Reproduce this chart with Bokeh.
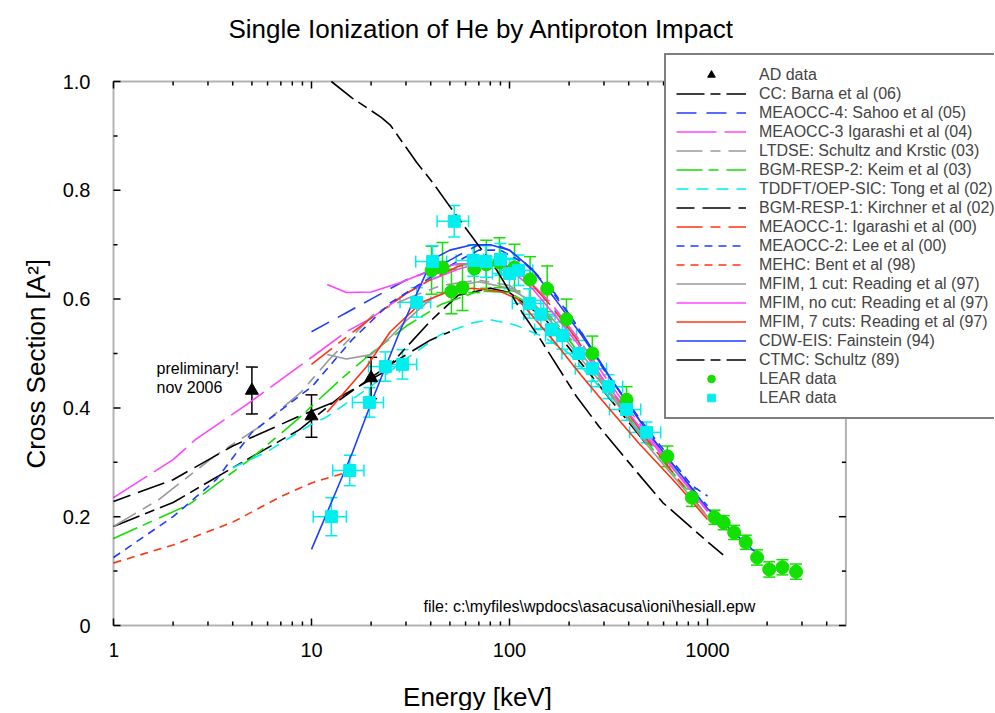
import math
from bokeh.plotting import figure
from bokeh.models import (Range1d, FixedTicker, Legend, LegendItem, Title,
                          Whisker, TeeHead, ColumnDataSource, Label, BoxAnnotation)
from bokeh.core.properties import value
from bokeh.embed import file_html
from bokeh.resources import INLINE

FONT = "Liberation Sans"

# ---------------- axes ----------------
box_E = [1, 5000]          # energy limits of the plotted box
box_s = [0, 1.0]           # cross-section limits of the plotted box
x_major = [1, 10, 100, 1000]
x_labels = ["1", "10", "100", "1000"]
x_minor = [2, 3, 4, 5, 6, 7, 8, 9, 20, 30, 40, 50, 60, 70, 80, 90,
           200, 300, 400, 500, 600, 700, 800, 900, 2000, 3000, 4000]
y_major = [0, 0.2, 0.4, 0.6, 0.8, 1.0]
y_labels = ["0", "0.2", "0.4", "0.6", "0.8", "1.0"]
y_minor = [0.1, 0.3, 0.5, 0.7, 0.9]

# ---------------- experimental data ----------------
ad_E = [5, 10, 20]
ad_s = [0.432, 0.385, 0.455]
ad_err = [0.043, 0.039, 0.038]

lear1_E = [40.4, 45.9, 50.9, 57.9, 66.4, 76.4, 89, 106, 127, 155, 194, 262, 390, 627,
           834, 1084, 1208, 1363, 1560, 1780, 2050, 2390, 2800]
lear1_s = [0.653, 0.658, 0.614, 0.621, 0.656, 0.664, 0.667, 0.658, 0.636, 0.619, 0.563,
           0.500, 0.415, 0.311, 0.235, 0.199, 0.189, 0.171, 0.153, 0.125, 0.103, 0.107, 0.099]
lear1_err = [0.044, 0.046, 0.041, 0.042, 0.044, 0.044, 0.046, 0.043, 0.042, 0.042, 0.037,
             0.032, 0.024, 0.019, 0.016, 0.013, 0.013, 0.013, 0.013, 0.014, 0.014, 0.014, 0.014]

lear2_E = [12.6, 15.6, 19.6, 23.6, 28.8, 34, 40.9, 52.6, 65.6, 76, 90, 100, 111, 126, 144,
           163, 185, 224, 262, 316, 390, 492]
lear2_s = [0.200, 0.285, 0.410, 0.476, 0.480, 0.594, 0.669, 0.743, 0.671, 0.669, 0.673,
           0.647, 0.653, 0.592, 0.572, 0.544, 0.533, 0.500, 0.472, 0.439, 0.397, 0.355]
lear2_err = [0.035, 0.028, 0.027, 0.027, 0.027, 0.027, 0.029, 0.029, 0.029, 0.029, 0.029,
             0.028, 0.028, 0.027, 0.026, 0.025, 0.025, 0.024, 0.023, 0.022, 0.020, 0.019]
lear2_xerr = [2.4, 2.8, 3.5, 4.2, 5.2, 6, 7.3, 9.5, 11.8, 13.7, 16, 18, 20, 22.7, 26,
              29, 33, 40, 47, 57, 70, 88]

# ---------------- theory curves ----------------
cc_E = [1, 2, 4, 8.7, 13.9, 23, 40, 55, 80, 100, 150, 200, 300, 500]
cc_s = [0.182, 0.226, 0.29, 0.36, 0.42, 0.465, 0.56, 0.607, 0.62, 0.612, 0.565, 0.51, 0.43, 0.33]

meaocc4_E = [10, 15, 20, 30, 41, 55, 70, 85, 100, 130, 170, 230, 330, 500, 800, 1000]
meaocc4_s = [0.54, 0.575, 0.60, 0.635, 0.654, 0.68, 0.70, 0.70, 0.69, 0.655, 0.61, 0.54,
             0.45, 0.355, 0.26, 0.22]

meaocc3_E = [1, 2, 2.6, 4.7, 10.1, 15, 20, 30, 40, 55, 70, 90, 120, 160, 220, 300, 500, 1000]
meaocc3_s = [0.235, 0.305, 0.342, 0.406, 0.494, 0.54, 0.565, 0.61, 0.635, 0.655, 0.665,
             0.665, 0.64, 0.595, 0.53, 0.46, 0.35, 0.21]

ltdse_E = [1, 1.7, 3.2, 5.5, 8.8, 12.3, 21, 30, 45, 70, 100, 150, 200, 300, 500]
ltdse_s = [0.182, 0.232, 0.31, 0.366, 0.428, 0.489, 0.575, 0.60, 0.625, 0.635, 0.625,
           0.58, 0.53, 0.445, 0.335]

bgm2_E = [1, 2.4, 5, 8.5, 14, 20, 30, 45, 70, 100, 150, 200, 300, 500, 900]
bgm2_s = [0.16, 0.222, 0.308, 0.379, 0.452, 0.50, 0.55, 0.59, 0.615, 0.612, 0.575, 0.525,
          0.44, 0.335, 0.225]

tddft_E = [4, 6, 10, 12, 20, 30, 45, 66, 80, 106, 150, 200, 300, 500, 800]
tddft_s = [0.29, 0.32, 0.37, 0.384, 0.44, 0.49, 0.535, 0.557, 0.562, 0.553, 0.53, 0.50,
           0.43, 0.34, 0.26]

bgm1_E = [1, 2, 4, 8.7, 13.9, 24, 40, 50]
bgm1_s = [0.228, 0.268, 0.33, 0.385, 0.415, 0.476, 0.525, 0.54]

meaocc1_E = [10, 15, 20, 30, 40, 55, 70, 90, 120, 160, 220, 300, 500, 1000]
meaocc1_s = [0.48, 0.53, 0.565, 0.61, 0.636, 0.66, 0.67, 0.668, 0.64, 0.59, 0.525, 0.45,
             0.34, 0.2]

meaocc2_E = [1, 2, 3.3, 5, 10.1, 16, 25, 40, 55, 70, 90, 120, 160, 220, 300, 500, 830, 1000]
meaocc2_s = [0.125, 0.2, 0.268, 0.355, 0.44, 0.525, 0.593, 0.64, 0.67, 0.69, 0.69, 0.665,
             0.62, 0.55, 0.47, 0.36, 0.258, 0.238]

mehc_E = [1, 2, 4, 7, 10, 12.8, 15.5]
mehc_s = [0.115, 0.148, 0.19, 0.237, 0.262, 0.274, 0.283]

mfim1_E = [12, 15, 20, 25, 30, 40, 55, 70, 100, 130, 170, 230, 300, 500, 1000]
mfim1_s = [0.498, 0.49, 0.498, 0.53, 0.56, 0.60, 0.625, 0.632, 0.62, 0.595, 0.55, 0.49,
           0.44, 0.33, 0.2]

mfim0_E = [12, 15, 20, 28, 38, 55, 75, 100, 130, 170, 230, 300, 500, 1000]
mfim0_s = [0.627, 0.612, 0.613, 0.63, 0.65, 0.665, 0.665, 0.655, 0.62, 0.57, 0.51, 0.45,
           0.345, 0.21]

mfim7_E = [12, 19, 25, 36, 50, 65, 90, 110, 130, 170, 230, 300, 450, 700, 1000]
mfim7_s = [0.392, 0.476, 0.54, 0.594, 0.615, 0.62, 0.614, 0.60, 0.57, 0.52, 0.46, 0.41,
           0.335, 0.26, 0.195]

cdw_E = [10, 12.8, 16.1, 20.3, 27.8, 40.7, 50, 65, 80, 100, 130, 170, 230, 330, 500, 1000, 1730]
cdw_s = [0.14, 0.232, 0.318, 0.415, 0.539, 0.673, 0.69, 0.70, 0.70, 0.69, 0.655, 0.60,
         0.535, 0.45, 0.355, 0.215, 0.136]

ctmc_E = [12.6, 16, 22.5, 25, 34, 41, 50, 68, 86, 116, 141, 218, 283, 442, 594, 1000, 1200]
ctmc_s = [1.0, 0.97, 0.934, 0.92, 0.851, 0.814, 0.77, 0.704, 0.654, 0.575, 0.53,
          0.421, 0.366, 0.281, 0.226, 0.154, 0.13]

BLACK = "#000000"
BLUE = "#1f3dff"
MAGENTA = "#ff44ff"
GRAY = "#999999"
GREEN = "#11e000"
CYAN = "#00eeee"
RED = "#ff3311"

curves = [
    ("CC: Barna et al (06)", cc_E, cc_s, BLACK, "28 6 10 6"),
    ("MEAOCC-4: Sahoo et al (05)", meaocc4_E, meaocc4_s, BLUE, "20 10"),
    ("MEAOCC-3 Igarashi et al (04)", meaocc3_E, meaocc3_s, MAGENTA, "40 8"),
    ("LTDSE: Schultz and Krstic (03)", ltdse_E, ltdse_s, GRAY, "26 8 10 8"),
    ("BGM-RESP-2: Keim et al (03)", bgm2_E, bgm2_s, GREEN, "26 6 10 8"),
    ("TDDFT/OEP-SIC: Tong et al (02)", tddft_E, tddft_s, CYAN, "12 8"),
    ("BGM-RESP-1: Kirchner et al (02)", bgm1_E, bgm1_s, BLACK, "18 8 28 8"),
    ("MEAOCC-1: Igarashi et al (00)", meaocc1_E, meaocc1_s, RED, "26 8 10 8"),
    ("MEAOCC-2: Lee et al (00)", meaocc2_E, meaocc2_s, BLUE, "8 6"),
    ("MEHC: Bent et al (98)", mehc_E, mehc_s, RED, "8 6"),
    ("MFIM, 1 cut: Reading et al (97)", mfim1_E, mfim1_s, GRAY, "solid"),
    ("MFIM, no cut: Reading et al (97)", mfim0_E, mfim0_s, MAGENTA, "solid"),
    ("MFIM, 7 cuts: Reading et al (97)", mfim7_E, mfim7_s, RED, "solid"),
    ("CDW-EIS: Fainstein (94)", cdw_E, cdw_s, BLUE, "solid"),
    ("CTMC: Schultz (89)", ctmc_E, ctmc_s, BLACK, "28 6 10 6"),
]

# ---------------- layout (pixels) ----------------
DECADE_PX = 198.0     # pixels per decade of energy
UNIT_PX = 544.0       # pixels per 1.0 of cross section
PAD_LEFT = 3          # frame extends this far left of the drawn box
FRAME_RIGHT_PX = 881  # box-left to canvas right edge
FRAME_TOP_PX = 576    # box-bottom to frame top
FRAME_BELOW_PX = 85   # box-bottom to canvas bottom (room for x labels)
XTICK_MID_PX = 24     # box-bottom to tick-label centre line
XLABEL_MID_PX = 71    # box-bottom to axis-title centre line
XLABEL_CENTER_PX = 364  # box-left to axis-title centre

x_range = Range1d(box_E[0] * 10 ** (-PAD_LEFT / DECADE_PX),
                  box_E[0] * 10 ** (FRAME_RIGHT_PX / DECADE_PX))
y_range = Range1d(box_s[0] - FRAME_BELOW_PX / UNIT_PX, box_s[0] + FRAME_TOP_PX / UNIT_PX)

p = figure(width=994, height=710, x_axis_type="log", x_range=x_range, y_range=y_range,
           output_backend="svg", toolbar_location=None,
           min_border_left=110, min_border_right=0, min_border_top=49, min_border_bottom=0)
p.xgrid.visible = False
p.ygrid.visible = False
p.xaxis.visible = False
p.outline_line_color = None
p.background_fill_color = "white"
p.border_fill_color = "white"

p.title.text = "Single Ionization of He by Antiproton Impact"
p.title.align = "left"
p.title.offset = 118
p.title.text_font = FONT
p.title.text_font_size = "26px"
p.title.text_font_style = "normal"
p.title.text_color = "black"
p.title.standoff = 11

ya = p.yaxis[0]
ya.ticker = FixedTicker(ticks=y_major, minor_ticks=[])
ya.major_label_overrides = dict(zip(y_major, y_labels))
ya.axis_line_color = None
ya.major_tick_line_color = None
ya.minor_tick_line_color = None
ya.major_label_text_font = FONT
ya.major_label_text_color = "black"
ya.major_label_text_font_size = "20px"
ya.major_label_standoff = 14

p.add_layout(Title(text="Cross Section [A²]", align="left", offset=160 + FRAME_BELOW_PX - 3,
                   standoff=17, text_font=FONT, text_font_size="26px",
                   text_font_style="normal", text_color="black"), "left")

# x tick labels and axis title, drawn below the box
p.text(x=x_major, y=[box_s[0] - XTICK_MID_PX / UNIT_PX] * len(x_major), text=x_labels,
       text_align="center", text_baseline="middle", text_font=value(FONT),
       text_font_size="20px", text_color="black")
p.add_layout(Label(x=box_E[0] * 10 ** (XLABEL_CENTER_PX / DECADE_PX),
                   y=box_s[0] - XLABEL_MID_PX / UNIT_PX, text="Energy [keV]",
                   text_align="center", text_baseline="middle", text_font=FONT,
                   text_font_size="26px", text_color="black"))

# theory lines
line_renderers = []
for label, E, s, color, dash in curves:
    r = p.line(E, s, line_color=color, line_width=1.6, line_dash=dash)
    line_renderers.append((label, r))

# error bars
def ysrc(E, s, e):
    return ColumnDataSource(dict(x=E, y=s,
                                 lo=[a - b for a, b in zip(s, e)],
                                 hi=[a + b for a, b in zip(s, e)]))


def tee(color):
    return TeeHead(size=12, line_color=color, line_width=1.5)


g_src = ysrc(lear1_E, lear1_s, lear1_err)
p.add_layout(Whisker(source=g_src, base="x", lower="lo", upper="hi", dimension="height",
                     line_color=GREEN, line_width=1.5, upper_head=tee(GREEN), lower_head=tee(GREEN)))

c_src = ysrc(lear2_E, lear2_s, lear2_err)
c_src.data["xlo"] = [a - b for a, b in zip(lear2_E, lear2_xerr)]
c_src.data["xhi"] = [a + b for a, b in zip(lear2_E, lear2_xerr)]
p.add_layout(Whisker(source=c_src, base="x", lower="lo", upper="hi", dimension="height",
                     line_color=CYAN, line_width=1.5, upper_head=tee(CYAN), lower_head=tee(CYAN)))
p.add_layout(Whisker(source=c_src, base="y", lower="xlo", upper="xhi", dimension="width",
                     line_color=CYAN, line_width=1.5, upper_head=tee(CYAN), lower_head=tee(CYAN)))

a_src = ysrc(ad_E, ad_s, ad_err)
p.add_layout(Whisker(source=a_src, base="x", lower="lo", upper="hi", dimension="height",
                     line_color=BLACK, line_width=1.5, upper_head=tee(BLACK), lower_head=tee(BLACK)))

r_ad = p.scatter("x", "y", source=a_src, marker="triangle", size=13,
                 fill_color=BLACK, line_color=BLACK)
r_g = p.scatter("x", "y", source=g_src, marker="circle", size=13,
                fill_color=GREEN, line_color=GREEN)
r_c = p.scatter("x", "y", source=c_src, marker="square", size=12,
                fill_color=CYAN, line_color=CYAN)

# box and inward ticks
p.add_layout(BoxAnnotation(left=box_E[0], right=box_E[1], bottom=box_s[0], top=box_s[1],
                           fill_color=None, line_color="black", line_width=2))
half_pi = math.pi / 2
for vals, ln in ((y_major, 7), (y_minor, 4)):
    p.ray(x=[box_E[0]] * len(vals), y=vals, length=ln, length_units="screen", angle=0,
          line_color="black", line_width=1.5)
    p.ray(x=[box_E[1]] * len(vals), y=vals, length=ln, length_units="screen", angle=math.pi,
          line_color="black", line_width=1.5)
for vals, ln in ((x_major, 7), (x_minor, 4)):
    p.ray(x=vals, y=[box_s[0]] * len(vals), length=ln, length_units="screen", angle=half_pi,
          line_color="black", line_width=1.5)
    p.ray(x=vals, y=[box_s[1]] * len(vals), length=ln, length_units="screen", angle=-half_pi,
          line_color="black", line_width=1.5)

items = [LegendItem(label="AD data", renderers=[r_ad])]
items += [LegendItem(label=lab, renderers=[r]) for lab, r in line_renderers]
items += [LegendItem(label="LEAR data", renderers=[r_g]),
          LegendItem(label="LEAR data", renderers=[r_c])]

legend = Legend(items=items, location=(554, 291),
                border_line_color="black", border_line_width=2,
                background_fill_color="white", background_fill_alpha=1.0,
                padding=10, spacing=0, margin=0,
                glyph_width=70, glyph_height=19, label_height=18, label_width=240,
                label_standoff=13,
                label_text_font=FONT, label_text_font_size="16px",
                label_text_baseline="middle")
p.add_layout(legend)

p.add_layout(Label(x=1.65, y=0.456, text="preliminary!", text_font=FONT,
                   text_font_size="16px", text_color="black"))
p.add_layout(Label(x=1.65, y=0.421, text="nov 2006", text_font=FONT,
                   text_font_size="16px", text_color="black"))
p.add_layout(Label(x=36.8, y=0.019, text="file: c:\\myfiles\\wpdocs\\asacusa\\ioni\\hesiall.epw",
                   text_font=FONT, text_font_size="16px", text_color="black"))

open("out.html", "w").write(file_html(p, INLINE))
